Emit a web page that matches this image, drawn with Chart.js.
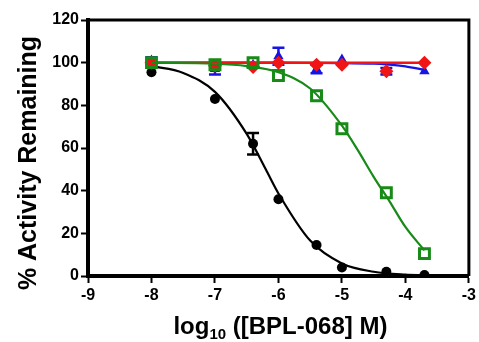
<!DOCTYPE html>
<html>
<head>
<meta charset="utf-8">
<script src="https://cdn.jsdelivr.net/npm/chart.js@4.4.1/dist/chart.umd.min.js"></script>
<style>
  html, body { margin: 0; padding: 0; background: #fff; }
  #wrap { width: 479px; height: 342px; }
</style>
</head>
<body>
<div id="wrap"><canvas id="c" width="479" height="342"></canvas></div>
<script>
// log10 of inhibitor concentration (M) for each measured point
const logConc = [-8, -7, -6.4, -6, -5.4, -5, -4.3, -3.7];

// % activity remaining, one array per enzyme series
const blackVals = [95.5, 83, 62, 36, 14.5, 4, 2, 0.5];
const blackErr  = [0, 0, 5, 0, 0, 0, 0, 0];
const greenVals = [100, 99, 100, 94, 84.5, 69, 39, 10.5];
const greenErr  = [0, 0, 0, 0, 0, 0, 0, 0];
const redVals   = [100, 98.5, 98, 100, 99, 99, 96, 100];
const redErr    = [0, 0, 0, 0, 0, 0, 0, 0];
const blueVals  = [101, 97, 99, 103, 97, 101.5, 96, 96];
const blueErr   = [1.5, 2.5, 0, 4, 2, 0, 1.5, 0];

// fitted dose-response curves (x positions and values along each curve)
const blackFitX = [-8, -7.5, -7, -6.5, -6.2, -6, -5.5, -5, -4.5, -4, -3.7];
const blackFitY = [98.4, 95.2, 86.3, 66.6, 50, 38.7, 16.6, 5.9, 2.0, 0.6, 0.3];
const greenFitX = [-8, -7, -6.5, -6, -5.5, -5, -4.75, -4.5, -4.25, -4, -3.7];
const greenFitY = [99.9, 99.5, 98.4, 95.5, 87.9, 70.5, 59, 46.5, 35, 23, 12];
const blueFitX  = [-8, -6, -5, -4.5, -4.3, -4, -3.7];
const blueFitY  = [100, 100, 99.8, 99.5, 99.2, 98.3, 96.6];
const redFitX   = [-8, -3.7];
const redFitY   = [100, 100];

// axis ticks
const xTicks = [-9, -8, -7, -6, -5, -4, -3];
const yTicks = [0, 20, 40, 60, 80, 100, 120];

const BLACK = '#000000';
const GREEN = '#178a17';
const RED   = '#f01414';
const BLUE  = '#1414e6';
const FONT  = '"Liberation Sans", Arial, sans-serif';

const pts = (xs, ys) => xs.map((x, i) => ({ x: x, y: ys[i] }));

function pointSet(vals, errs, color, style, radius, fill, border, order) {
  return {
    data: pts(logConc, vals),
    errors: errs,
    showLine: false,
    pointStyle: style,
    pointRadius: radius,
    pointHoverRadius: radius,
    pointBackgroundColor: fill,
    pointBorderColor: color,
    pointBorderWidth: border,
    borderColor: color,
    backgroundColor: color,
    order: order
  };
}

function fitSet(xs, ys, color, width, order) {
  return {
    data: pts(xs, ys),
    showLine: true,
    pointRadius: 0,
    borderColor: color,
    borderWidth: width,
    cubicInterpolationMode: 'monotone',
    fill: false,
    order: order
  };
}

// vertical error bars with caps, drawn right after their own dataset
const errorBars = {
  id: 'errorBars',
  afterDatasetDraw(chart, args) {
    const ds = chart.data.datasets[args.index];
    if (!ds.errors) return;
    const ys = chart.scales.y;
    const ctx = chart.ctx;
    ctx.save();
    ctx.strokeStyle = ds.borderColor;
    ctx.lineWidth = 2.5;
    args.meta.data.forEach((el, i) => {
      const e = ds.errors[i];
      if (!e) return;
      const v = ds.data[i].y;
      const top = ys.getPixelForValue(v + e);
      const bot = ys.getPixelForValue(v - e);
      const cap = 6;
      ctx.beginPath();
      ctx.moveTo(el.x, top); ctx.lineTo(el.x, bot);
      ctx.moveTo(el.x - cap, top); ctx.lineTo(el.x + cap, top);
      ctx.moveTo(el.x - cap, bot); ctx.lineTo(el.x + cap, bot);
      ctx.stroke();
    });
    ctx.restore();
  }
};

// top/right frame lines and the axis titles
const frameAndTitles = {
  id: 'frameAndTitles',
  afterDraw(chart) {
    const { ctx, chartArea: a } = chart;
    ctx.save();
    ctx.strokeStyle = '#000';
    ctx.lineWidth = 3;
    ctx.beginPath();
    ctx.moveTo(a.left, a.top);
    ctx.lineTo(a.right, a.top);
    ctx.lineTo(a.right, a.bottom);
    ctx.stroke();

    ctx.fillStyle = '#000';
    // y title
    ctx.save();
    ctx.translate(29, 163);
    ctx.rotate(-Math.PI / 2);
    ctx.font = 'bold 25px ' + FONT;
    ctx.textAlign = 'center';
    ctx.textBaseline = 'middle';
    ctx.fillText('% Activity Remaining', 0, 0);
    ctx.restore();

    // x title with subscript
    const main = 'bold 24px ' + FONT;
    const sub = 'bold 15px ' + FONT;
    const p1 = 'log', p2 = '10', p3 = ' ([BPL-068] M)';
    ctx.font = main; const w1 = ctx.measureText(p1).width; const w3 = ctx.measureText(p3).width;
    ctx.font = sub; const w2 = ctx.measureText(p2).width;
    const total = w1 + w2 + w3;
    let x = (a.left + a.right) / 2 - total / 2 + 2;
    const base = 334;
    ctx.textBaseline = 'alphabetic';
    ctx.textAlign = 'left';
    ctx.font = main; ctx.fillText(p1, x, base); x += w1;
    ctx.font = sub; ctx.fillText(p2, x, base + 5); x += w2;
    ctx.font = main; ctx.fillText(p3, x, base);
    ctx.restore();
  }
};

new Chart(document.getElementById('c'), {
  type: 'scatter',
  data: {
    datasets: [
      pointSet(greenVals, greenErr, GREEN, 'rect', 7, 'rgba(0,0,0,0)', 3, 1),
      fitSet(greenFitX, greenFitY, GREEN, 2.2, 2),
      pointSet(redVals, redErr, RED, 'rectRot', 7, RED, 0, 3),
      fitSet(redFitX, redFitY, RED, 2.5, 4),
      pointSet(blueVals, blueErr, BLUE, 'triangle', 6, BLUE, 0, 5),
      fitSet(blueFitX, blueFitY, BLUE, 2.2, 6),
      pointSet(blackVals, blackErr, BLACK, 'circle', 5, BLACK, 0, 7),
      fitSet(blackFitX, blackFitY, BLACK, 2.2, 8)
    ]
  },
  options: {
    responsive: false,
    animation: false,
    events: [],
    layout: { padding: { left: 0, top: 20, right: 8, bottom: 0 } },
    plugins: { legend: { display: false }, tooltip: { enabled: false } },
    scales: {
      x: {
        type: 'linear',
        min: xTicks[0],
        max: xTicks[xTicks.length - 1],
        afterBuildTicks: s => { s.ticks = xTicks.map(v => ({ value: v })); },
        afterFit: s => { s.height = 66; },
        ticks: { color: '#000', font: { family: FONT, size: 16, weight: 'bold' }, padding: 3 },
        grid: { display: true, drawOnChartArea: false, drawTicks: true, tickLength: 7, tickWidth: 2, tickColor: '#000' },
        border: { display: true, width: 4, color: '#000' }
      },
      y: {
        min: yTicks[0],
        max: yTicks[yTicks.length - 1],
        afterBuildTicks: s => { s.ticks = yTicks.map(v => ({ value: v })); },
        afterFit: s => { s.width = 88; },
        ticks: { color: '#000', font: { family: FONT, size: 16, weight: 'bold' }, padding: 2 },
        grid: { display: true, drawOnChartArea: false, drawTicks: true, tickLength: 7, tickWidth: 2, tickColor: '#000' },
        border: { display: true, width: 4, color: '#000' }
      }
    }
  },
  plugins: [errorBars, frameAndTitles]
});
</script>
</body>
</html>
